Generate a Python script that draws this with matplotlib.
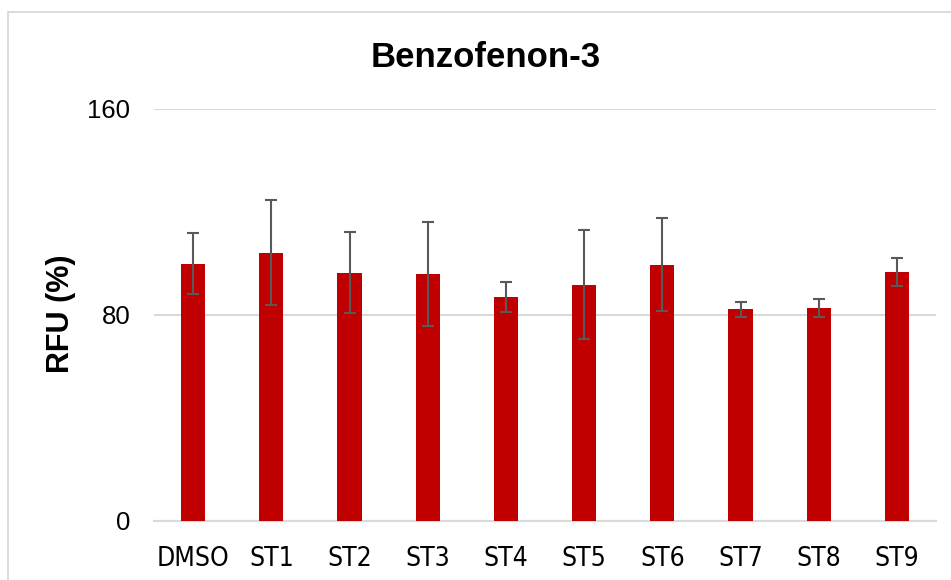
import matplotlib
matplotlib.use("Agg")
import matplotlib.pyplot as plt
from matplotlib import font_manager
from matplotlib.patches import Rectangle

# donnees
categories = ["DMSO", "ST1", "ST2", "ST3", "ST4", "ST5", "ST6", "ST7", "ST8", "ST9"]
rfu = [100.0, 104.1, 96.5, 96.0, 87.1, 91.7, 99.6, 82.2, 82.7, 96.6]
rfu_err = [11.7, 20.4, 15.9, 20.1, 5.8, 21.2, 17.9, 3.0, 3.5, 5.5]
yticks = [0, 80, 160]

installed = {f.name for f in font_manager.fontManager.ttflist}
main_font = "Liberation Sans" if "Liberation Sans" in installed else "DejaVu Sans"

# police etroite pour les etiquettes x (type Calibri) si on en trouve une
narrow = None
for f in font_manager.fontManager.ttflist:
    if f.name == "Liberation Sans Narrow" or (str(f.stretch) in ("condensed", "semi-condensed", "75", "87")
                                              and f.weight in (400, "normal", "regular")
                                              and f.style == "normal"):
        narrow = f.fname
        break

plt.rcParams['font.family'] = [main_font, 'DejaVu Sans']

grey = '#D9D9D9'

fig = plt.figure(figsize=(9.51, 5.8), dpi=100)
ax = fig.add_axes([154/951, 1 - 521/580, (936 - 154)/951, (521 - 109)/580])

x = range(len(categories))
ax.bar(x, rfu, width=0.31, color='#C00000', zorder=3)
ax.errorbar(x, rfu, yerr=rfu_err, fmt='none', ecolor='#595959',
            elinewidth=1.5, capsize=4.3, capthick=1.5, zorder=4)

ax.set_xlim(-0.5, len(categories) - 0.5)
ax.set_ylim(0, 160)
ax.set_yticks(yticks)
ax.set_yticklabels([str(v) for v in yticks], fontsize=18.5, color='#000000')
ax.set_xticks(list(x))
if narrow is not None:
    fp = font_manager.FontProperties(fname=narrow, size=19)
    ax.set_xticklabels(categories, fontproperties=fp)
else:
    ax.set_xticklabels(categories, fontsize=16.5)
ax.tick_params(axis='both', length=0)
ax.tick_params(axis='y', pad=17)
ax.tick_params(axis='x', pad=18)

ax.yaxis.grid(True, color=grey, linewidth=1.5, zorder=0)
ax.set_axisbelow(True)
for s in ['left', 'right', 'top']:
    ax.spines[s].set_visible(False)
ax.spines['bottom'].set_color(grey)
ax.spines['bottom'].set_linewidth(1.5)

fig.text(486/951, 1 - 66.7/580, "Benzofenon-3", fontsize=25, fontweight='bold',
         ha='center', va='baseline')
fig.text(61/951, 1 - 314/580, "RFU (%)", fontsize=22, fontweight='bold',
         rotation=90, ha='center', va='center')

# cadre gris autour du graphique
fig.patches.append(Rectangle((8/951, -0.1), 1.2, 1.1 - 12/580, transform=fig.transFigure,
                             fill=False, edgecolor=grey, linewidth=1.3))

fig.savefig("out.png", dpi=100)
